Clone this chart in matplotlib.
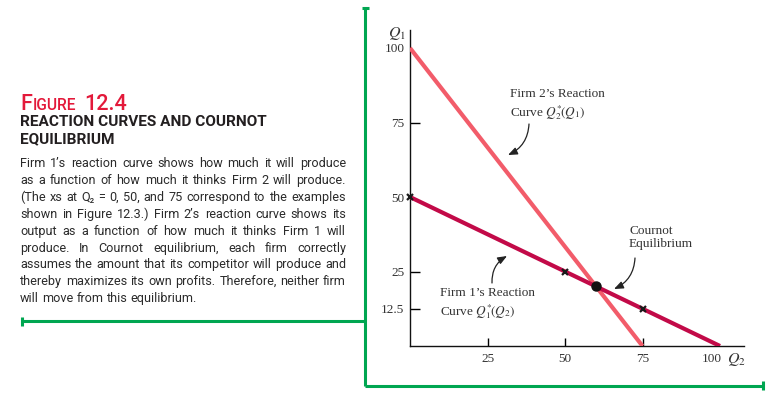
import matplotlib
matplotlib.use("Agg")
import matplotlib.pyplot as plt
from matplotlib.lines import Line2D
from matplotlib.transforms import ScaledTranslation
import numpy as np

# Reaction curves (Q2 on x-axis, Q1 on y-axis)
firm1_q2 = [0, 100]
firm1_q1 = [50, 0]
firm2_q2 = [0, 75]
firm2_q1 = [100, 0]
marked_q2 = [0, 50, 75]          # the xs from Figure 12.3

x_ticks = [25, 50, 75, 100]
x_tick_labels = ["25", "50", "75", "100"]
y_ticks = [100, 75, 50, 25, 12.5]
y_tick_labels = ["100", "75", "50", "25", "12.5"]

title_lines = ["REACTION CURVES AND COURNOT", "EQUILIBRIUM"]
body_lines = [
    "Firm 1\u2019s reaction curve shows how much it will produce",
    "as a function of how much it thinks Firm 2 will produce.",
    "(The xs at Q\u2082 = 0, 50, and 75 correspond to the examples",
    "shown in Figure 12.3.) Firm 2\u2019s reaction curve shows its",
    "output as a function of how much it thinks Firm 1 will",
    "produce. In Cournot equilibrium, each firm correctly",
    "assumes the amount that its competitor will produce and",
    "thereby maximizes its own profits. Therefore, neither firm",
    "will move from this equilibrium.",
]

W, H = 778, 398
GREEN = "#00a651"
PINK = "#f25c6a"
CRIMSON = "#c20a48"
RED = "#e3193a"
DARK = "#231f20"
SANS = ["Roboto", "DejaVu Sans"]
SERIF = ["Liberation Serif", "DejaVu Serif"]

plt.rcParams["mathtext.fontset"] = "stix"

fig = plt.figure(figsize=(W / 100, H / 100), dpi=100)
renderer = fig.canvas.get_renderer()


def fx(px):
    return px / W


def fy(py):
    return 1 - py / H


def width_of(t):
    return t.get_window_extent(renderer).width


def fit_size(text, target, **kw):
    t = fig.text(0, 0, text, fontsize=10, **kw)
    w = width_of(t)
    t.remove()
    return 10 * target / w


# ---- green frame lines ----
def gline(xs, ys):
    fig.add_artist(Line2D([fx(x) for x in xs], [fy(y) for y in ys],
                          color=GREEN, lw=2.2, solid_capstyle="butt"))


gline([365, 365], [7.5, 386])
gline([361.5, 369], [7.5, 7.5])
gline([365, 764], [386, 386])
gline([763, 763], [381, 390])
gline([22, 365], [321, 321])
gline([22, 22], [316.5, 325.5])

# ---- left caption ----
big = 15.5
small = 11.2
t = fig.text(fx(20), fy(110), "F", fontsize=big, color=RED, family=SANS,
             fontweight="medium", va="baseline")
x = 20 + width_of(t) + 0.5
t = fig.text(fx(x), fy(110), "IGURE", fontsize=small, color=RED, family=SANS,
             fontweight="medium", va="baseline")
x += width_of(t) + 8
t = fig.text(fx(x), fy(110), "12.4", fontsize=big, color=RED, family=SANS,
             fontweight="medium", va="baseline")

tsize = fit_size(title_lines[0], 247, family=SANS, fontweight="bold")
for line, base in zip(title_lines, [126.5, 143]):
    fig.text(fx(20), fy(base), line, fontsize=tsize, color=DARK,
             family=SANS, fontweight="bold", va="baseline")

left, right = 20, 346
bsize = min(fit_size(l, right - left - 3, family=SANS) for l in body_lines[:-1])
for i, line in enumerate(body_lines):
    base = 167.3 + i * 16.85
    words = line.split(" ")
    texts = [fig.text(0, 0, w, fontsize=bsize, color="#2b2b2b", family=SANS,
                      va="baseline") for w in words]
    widths = [width_of(tt) for tt in texts]
    if i == len(body_lines) - 1:
        gap = bsize * 100 / 72 * 0.25
    else:
        gap = (right - left - sum(widths)) / (len(words) - 1)
    xx = left
    for tt, w in zip(texts, widths):
        tt.set_position((fx(xx), fy(base)))
        xx += w + gap

# ---- chart ----
x_scale = 3.1
y_scale = 2.98
ax_left, ax_bottom, ax_top, ax_right = 410, 346, 30, 744
ax = fig.add_axes([fx(ax_left), fy(ax_bottom),
                   (ax_right - ax_left) / W, (ax_bottom - ax_top) / H])
ax.set_xlim(0, (ax_right - ax_left) / x_scale)
ax.set_ylim(0, (ax_bottom - ax_top) / y_scale)
ax.patch.set_visible(False)
for s in ["top", "right"]:
    ax.spines[s].set_visible(False)
for s in ["left", "bottom"]:
    ax.spines[s].set_linewidth(1.0)
    ax.spines[s].set_color("#111111")

ax.plot(firm2_q2, firm2_q1, color=PINK, lw=3.0, solid_capstyle="butt", zorder=3)
ax.plot(firm1_q2, firm1_q1, color=CRIMSON, lw=3.0, solid_capstyle="butt", zorder=4)

f1 = np.polyfit(firm1_q2, firm1_q1, 1)
f2 = np.polyfit(firm2_q2, firm2_q1, 1)
eq_q2 = (f2[1] - f1[1]) / (f1[0] - f2[0])
eq_q1 = np.polyval(f1, eq_q2)
mark_q1 = np.polyval(f1, marked_q2)
ax.plot(marked_q2, mark_q1, ls="none", marker="x", ms=5, mew=1.6,
        color="#1a1a1a", zorder=6, clip_on=False)
ax.plot([eq_q2], [eq_q1], ls="none", marker="o", ms=6.5, color="#111111", zorder=7)

ax.set_xticks(x_ticks)
ax.set_xticklabels(x_tick_labels, family=SERIF, fontsize=9.5, color="#333333")
ax.set_yticks(y_ticks)
ax.set_yticklabels(y_tick_labels, family=SERIF, fontsize=9.5, color="#333333")
ax.tick_params(axis="x", direction="in", length=6, width=1.0, pad=5)
ax.tick_params(axis="y", direction="in", length=7, width=1.0, pad=4)
for i, tk in enumerate(ax.xaxis.get_major_ticks()):
    if x_ticks[i] == 100:
        tk.tick1line.set_visible(False)
        tk.label1.set_transform(tk.label1.get_transform() +
                                ScaledTranslation(-8 / 100, 0, fig.dpi_scale_trans))
for i, tk in enumerate(ax.yaxis.get_major_ticks()):
    if y_ticks[i] in (100, 50):
        tk.tick1line.set_visible(False)


def d(px, py):
    return ((px - ax_left) / x_scale, (ax_bottom - py) / y_scale)


ax.text(*d(397, 34), "$Q_1$", fontsize=11.5, color="#333333", ha="center", va="center")
ax.text(*d(736, 359), "$Q_2$", fontsize=11.5, color="#333333", ha="center", va="center")

lab = dict(fontsize=9.5, color="#333333", family=SERIF, va="center", ha="left",
           linespacing=1.2)
ax.text(*d(510, 105), "Firm 2\u2019s Reaction\nCurve $Q_2^{*}\\!(Q_1)$", **lab)
ax.text(*d(629, 237.5), "Cournot\nEquilibrium", **lab)
ax.text(*d(440, 304), "Firm 1\u2019s Reaction\nCurve $Q_1^{*}\\!(Q_2)$", **lab)

arrow = dict(arrowstyle="-|>,head_length=0.55,head_width=0.22", lw=0.9,
             color="#222222", connectionstyle="arc3,rad=-0.3",
             shrinkA=0, shrinkB=0)
ax.annotate("", xy=d(508, 155), xytext=d(529, 124), arrowprops=arrow)
ax.annotate("", xy=d(614, 289), xytext=d(635, 258), arrowprops=arrow)
ax.annotate("", xy=d(507, 256), xytext=d(492, 283), arrowprops=arrow)

fig.savefig("out.png", dpi=100)
